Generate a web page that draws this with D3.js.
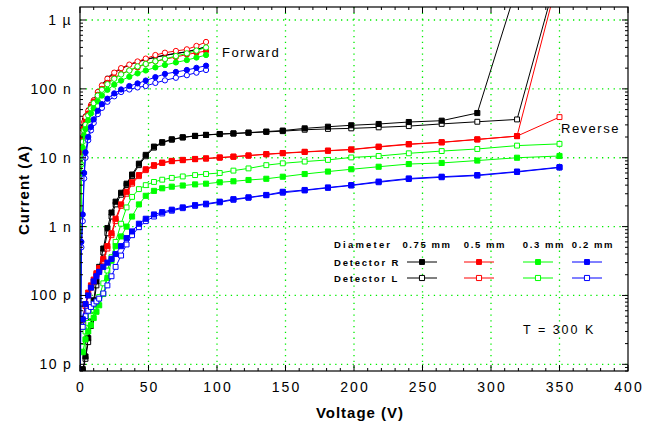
<!DOCTYPE html>
<html lang="en">
<head>
<meta charset="UTF-8">
<title>Detector I-V curves</title>
<script src="https://d3js.org/d3.v7.min.js"></script>
<style>
    body { margin: 0; background: #fff; }
    svg text { font-family: "Liberation Sans", Arial, sans-serif; fill: #000; }
</style>
</head>
<body>
<div id="chart"></div>
<script>
// ---- data (currents in nA, voltages in V) ----
const xTicks = [0, 50, 100, 150, 200, 250, 300, 350, 400];
const yTicks = [0.01, 0.1, 1, 10, 100, 1000];
const yTickLabels = ['10 p', '100 p', '1 n', '10 n', '100 n', '1 µ'];

const diameters = ['0.75 mm', '0.5 mm', '0.3 mm', '0.2 mm'];
const colors = ['#000000', '#ff0000', '#00ff00', '#0000ff'];

// forward bias
const fwdV = [0.2, 1, 2, 3, 4, 6, 8, 10, 13, 16, 20, 25, 30, 36, 42, 48, 55, 62, 70, 78, 85, 92];
const blackFwdR = [null, 16, 28, 36, 41, 50, 60, 70, 92, 115, 145, 175, 200, 225, 250, 268, 290, 310, 328, 347, 375, 410];
const blackFwdL = [null, 15, 27, 34, 40, 49, 58, 68, 90, 112, 140, 170, 196, 222, 246, 265, 287, 306, 325, 345, 372, 405];
const redFwdR = [null, 12, 20, 27, 33, 44, 55, 65, 82, 100, 122, 145, 165, 185, 205, 230, 250, 270, 290, 315, 335, 355];
const redFwdL = [null, 17, 26, 33, 39, 48, 58, 68, 90, 112, 140, 172, 200, 225, 250, 275, 310, 335, 355, 375, 420, 480];
const greenFwdR = [0.005, 6, 14, 21, 26, 35, 44, 52, 66, 80, 97, 115, 132, 150, 168, 185, 205, 222, 242, 262, 285, 310];
const greenFwdL = [0.005, 8, 17, 25, 30, 41, 52, 62, 80, 97, 117, 140, 162, 185, 212, 230, 252, 272, 300, 328, 360, 400];
const blueFwdR = [0.005, 0.6, 1.5, 6, 12, 20, 28, 36, 48, 60, 72, 86, 98, 110, 120, 132, 148, 165, 176, 188, 202, 217];
const blueFwdL = [0.005, 0.5, 1.2, 5, 10, 18, 25, 32, 43, 53, 65, 78, 90, 98, 105, 110, 122, 133, 145, 158, 172, 188];

// reverse bias
const revV = [2, 4, 6, 8, 10, 12, 14, 17, 20, 23, 26, 30, 34, 38, 43, 48, 54, 60, 67, 75, 84, 92, 102, 112, 123, 136, 148, 164, 181, 198, 218, 240, 264, 290, 319, 350];
const blackRevR = [0.0085, 0.013, 0.024, 0.042, 0.085, 0.16, 0.26, 0.48, 0.95, 1.6, 2.3, 3.1, 4.2, 5.7, 8.2, 11, 14.5, 16.8, 18.5, 19.8, 20.8, 21.5, 22.1, 22.6, 23.2, 24, 24.8, 26.7, 28.2, 29.6, 30.9, 33, 34.5, 44.6, 3100, null];
const blackRevL = [0.008, 0.012, 0.021, 0.036, 0.07, 0.14, 0.23, 0.42, 0.8, 1.4, 2.1, 2.9, 4.0, 5.4, 7.8, 10.5, 14, 16.5, 18.3, 19.7, 20.7, 21.4, 22, 22.4, 23, 23.7, 24.3, 25.5, 26.2, 26.7, 27.6, 28.8, 31, 33.3, 36, 6000];
const redRevR = [0.045, 0.075, 0.11, 0.14, 0.17, 0.21, 0.25, 0.34, 0.52, 0.8, 1.3, 2.1, 3.2, 4.4, 5.6, 6.8, 7.8, 8.5, 9.0, 9.3, 9.6, 9.8, 10.1, 10.4, 10.8, 11.3, 11.7, 12.2, 12.7, 13.2, 14.5, 15.8, 16.8, 18.5, 20.6, 4900];
const redRevL = [0.04, 0.07, 0.1, 0.13, 0.16, 0.2, 0.24, 0.32, 0.48, 0.75, 1.2, 2.0, 3.0, 4.2, 5.4, 6.6, 7.6, 8.4, 8.9, 9.2, 9.5, 9.7, 10, 10.3, 10.7, 11.2, 11.6, 12.1, 12.6, 13.1, 14.3, 15.6, 16.7, 18.4, 20.6, 38.9];
const greenRevR = [0.015, 0.023, 0.03, 0.037, 0.047, 0.058, 0.072, 0.105, 0.18, 0.32, 0.52, 0.72, 1.0, 1.4, 2.1, 2.8, 3.3, 3.6, 3.8, 3.95, 4.1, 4.2, 4.4, 4.55, 4.75, 4.95, 5.3, 5.8, 6.3, 6.8, 7.4, 8.1, 8.4, 9.1, 10.0, 10.6];
const greenRevL = [0.018, 0.03, 0.04, 0.05, 0.062, 0.075, 0.095, 0.15, 0.23, 0.36, 0.6, 1.1, 1.9, 2.7, 3.5, 4.0, 4.45, 4.8, 5.1, 5.35, 5.6, 5.8, 6.0, 6.5, 7.0, 7.8, 8.3, 8.8, 9.3, 10.1, 10.6, 11.6, 12.5, 13.4, 15.0, 15.9];
const blueRevR = [0.045, 0.075, 0.1, 0.13, 0.16, 0.19, 0.22, 0.26, 0.3, 0.34, 0.4, 0.52, 0.68, 0.85, 1.1, 1.3, 1.5, 1.62, 1.76, 1.9, 2.05, 2.15, 2.3, 2.5, 2.66, 2.88, 3.2, 3.4, 3.7, 4.0, 4.5, 5.0, 5.3, 5.6, 6.3, 7.3];
const blueRevL = [0.035, 0.05, 0.06, 0.068, 0.076, 0.082, 0.09, 0.107, 0.14, 0.19, 0.26, 0.38, 0.55, 0.75, 0.98, 1.2, 1.4, 1.55, 1.7, 1.85, 2.0, 2.1, 2.25, 2.45, 2.62, 2.85, 3.1, 3.35, 3.65, 3.95, 4.4, 4.9, 5.2, 5.5, 6.2, 7.2];

const fwdR = [blackFwdR, redFwdR, greenFwdR, blueFwdR];
const fwdL = [blackFwdL, redFwdL, greenFwdL, blueFwdL];
const revR = [blackRevR, redRevR, greenRevR, blueRevR];
const revL = [blackRevL, redRevL, greenRevL, blueRevL];

// ---- layout ----
const W = 652, H = 424;
const m = { left: 80, right: 628, top: 7, bottom: 371 };

const svg = d3.select('#chart').append('svg')
    .attr('width', W).attr('height', H);

const x = d3.scaleLinear().domain([0, 400]).range([m.left, m.right]);
const y = d3.scaleLog().domain([0.008, 1545]).range([m.bottom, m.top]);

// grid
const gridColor = '#00ee00';
svg.append('g').selectAll('line')
    .data(xTicks.filter(d => d > 0 && d < 400))
    .join('line')
    .attr('x1', d => x(d)).attr('x2', d => x(d))
    .attr('y1', m.top).attr('y2', m.bottom)
    .attr('stroke', gridColor).attr('stroke-width', 1.3)
    .attr('stroke-dasharray', '1.3,4.5');
svg.append('g').selectAll('line')
    .data(yTicks)
    .join('line')
    .attr('x1', m.left).attr('x2', m.right)
    .attr('y1', d => y(d)).attr('y2', d => y(d))
    .attr('stroke', gridColor).attr('stroke-width', 1.3)
    .attr('stroke-dasharray', '1.3,4.5');

// data
svg.append('defs').append('clipPath').attr('id', 'plot-clip')
    .append('rect').attr('x', m.left).attr('y', m.top)
    .attr('width', m.right - m.left).attr('height', m.bottom - m.top);

const plot = svg.append('g').attr('clip-path', 'url(#plot-clip)');

const line = d3.line().x(d => x(d[0])).y(d => y(d[1]));

function drawSeries(vs, vals, color, filled, shape, size) {
    const pts = vs.map((v, i) => [v, vals[i]]).filter(d => d[1] != null);
    plot.append('path')
        .attr('d', line(pts))
        .attr('fill', 'none')
        .attr('stroke', color)
        .attr('stroke-width', 1);
    const sym = d3.symbol().type(shape).size(size);
    plot.append('g').selectAll('path')
        .data(pts)
        .join('path')
        .attr('d', sym)
        .attr('transform', d => `translate(${x(d[0])},${y(d[1])})`)
        .attr('fill', filled ? color : '#fff')
        .attr('stroke', color)
        .attr('stroke-width', 1);
}

colors.forEach((c, i) => {
    const fShape = i === 0 ? d3.symbolSquare : d3.symbolCircle;
    const fSize = i === 0 ? 9 : 22;
    drawSeries(fwdV, fwdL[i], c, false, fShape, fSize);
    drawSeries(fwdV, fwdR[i], c, true, fShape, fSize);
    drawSeries(revV, revL[i], c, false, d3.symbolSquare, 24);
    drawSeries(revV, revR[i], c, true, d3.symbolSquare, 26);
});

// frame
svg.append('rect')
    .attr('x', m.left).attr('y', m.top)
    .attr('width', m.right - m.left).attr('height', m.bottom - m.top)
    .attr('fill', 'none').attr('stroke', '#000').attr('stroke-width', 1.2);

// ticks (inward on all four sides)
const ax = svg.append('g').attr('stroke', '#000').attr('stroke-width', 1);
const xMinor = d3.range(0, 401, 10);
ax.append('g').selectAll('line')
    .data(xMinor)
    .join('line')
    .attr('x1', d => x(d)).attr('x2', d => x(d))
    .attr('y1', m.bottom).attr('y2', d => m.bottom - (d % 50 === 0 ? 6 : 3));
ax.append('g').selectAll('line')
    .data(xMinor)
    .join('line')
    .attr('x1', d => x(d)).attr('x2', d => x(d))
    .attr('y1', m.top).attr('y2', d => m.top + (d % 50 === 0 ? 6 : 3));

const yMinor = y.ticks().filter(d => d >= 0.008 && d <= 1545);
const isMajor = d => Math.abs(Math.log10(d) - Math.round(Math.log10(d))) < 1e-6;
ax.append('g').selectAll('line')
    .data(yMinor)
    .join('line')
    .attr('y1', d => y(d)).attr('y2', d => y(d))
    .attr('x1', m.left).attr('x2', d => m.left + (isMajor(d) ? 6 : 3));
ax.append('g').selectAll('line')
    .data(yMinor)
    .join('line')
    .attr('y1', d => y(d)).attr('y2', d => y(d))
    .attr('x1', m.right).attr('x2', d => m.right - (isMajor(d) ? 6 : 3));

// tick labels
svg.append('g').selectAll('text')
    .data(xTicks)
    .join('text')
    .attr('x', d => x(d) + 1)
    .attr('y', 392)
    .attr('text-anchor', 'middle')
    .style('font-size', '14px')
    .style('letter-spacing', '2px')
    .text(d => d);

svg.append('g').selectAll('text')
    .data(yTicks)
    .join('text')
    .attr('x', 72)
    .attr('y', d => y(d) + 5)
    .attr('text-anchor', 'end')
    .style('font-size', '14px')
    .style('letter-spacing', '1.3px')
    .text((d, i) => yTickLabels[i]);

// axis titles
svg.append('text')
    .attr('x', 360).attr('y', 418)
    .attr('text-anchor', 'middle')
    .style('font-size', '15px').style('font-weight', 'bold')
    .style('letter-spacing', '1px')
    .text('Voltage (V)');

svg.append('text')
    .attr('transform', 'translate(29,190) rotate(-90)')
    .attr('text-anchor', 'middle')
    .style('font-size', '15px').style('font-weight', 'bold')
    .style('letter-spacing', '1px')
    .text('Current (A)');

// annotations
svg.append('text').attr('x', 222).attr('y', 57)
    .style('font-size', '13px').style('letter-spacing', '1.5px')
    .text('Forward');
svg.append('text').attr('x', 561).attr('y', 133)
    .style('font-size', '13px').style('letter-spacing', '1.5px')
    .text('Reverse');
svg.append('text').attr('x', 523).attr('y', 334)
    .style('font-size', '12.5px').style('letter-spacing', '2px')
    .text('T = 300 K');

// legend
const legX = [422, 479, 538, 587];
const lg = svg.append('g');
lg.append('text').attr('x', 334).attr('y', 248)
    .style('font-size', '9.5px').style('font-weight', 'bold').style('letter-spacing', '2.2px')
    .text('Diameter');
lg.append('g').selectAll('text')
    .data(diameters)
    .join('text')
    .attr('x', (d, i) => legX[i] + (i === 0 ? 5 : 6))
    .attr('y', 248)
    .attr('text-anchor', 'middle')
    .style('font-size', '9.5px').style('font-weight', 'bold').style('letter-spacing', '1.6px')
    .text(d => d);

[['Detector R', 262, true], ['Detector L', 278, false]].forEach(([label, ly, filled]) => {
    lg.append('text').attr('x', 334).attr('y', ly + 4)
        .style('font-size', '9.5px').style('font-weight', 'bold').style('letter-spacing', '1.8px')
        .text(label);
    colors.forEach((c, i) => {
        lg.append('line')
            .attr('x1', legX[i] - 15).attr('x2', legX[i] + 15)
            .attr('y1', ly).attr('y2', ly)
            .attr('stroke', c).attr('stroke-width', 1);
        lg.append('path')
            .attr('d', d3.symbol().type(d3.symbolSquare).size(filled ? 24 : 26)())
            .attr('transform', `translate(${legX[i]},${ly})`)
            .attr('fill', filled ? c : '#fff')
            .attr('stroke', c).attr('stroke-width', 1);
    });
});
</script>
</body>
</html>
